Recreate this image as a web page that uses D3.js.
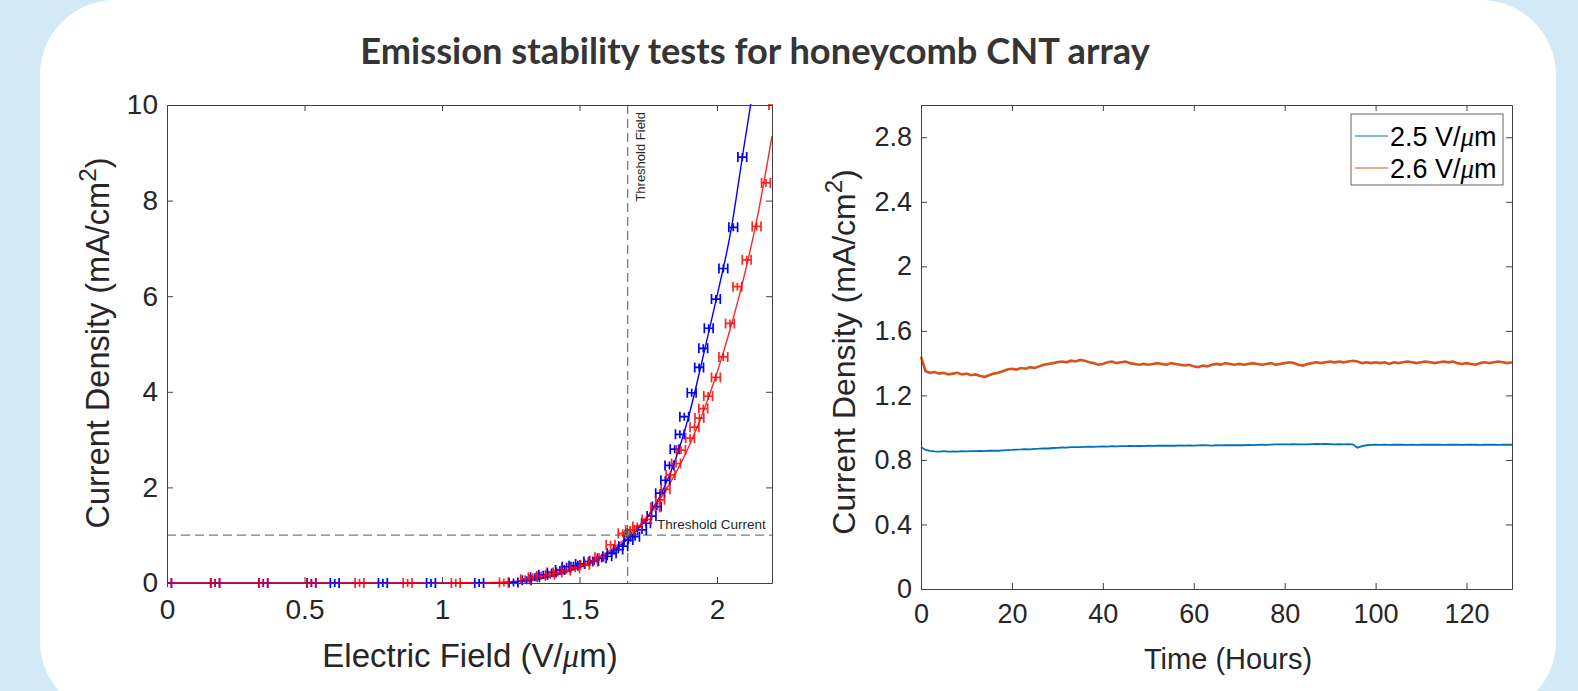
<!DOCTYPE html>
<html>
<head>
<meta charset="utf-8">
<script src="https://cdn.jsdelivr.net/npm/d3@7"></script>
<style>
	body { margin: 0; background: #d3e9f5; }
	svg { display: block; }
	.tick text { font-family: "Liberation Sans", Arial, sans-serif; fill: #262626; }
	.axis path, .axis line { stroke: #404040; }
</style>
</head>
<body>
<script>
	var w = 1578;
	var h = 691;

	// left panel: field emission J-E curves
	var blueField = [0, 0.175, 0.35, 0.525, 0.61, 0.785, 0.96, 1.135, 1.26, 1.308, 1.338, 1.368, 1.399, 1.429, 1.453, 1.478, 1.502, 1.532, 1.553, 1.581, 1.601, 1.617, 1.641, 1.659, 1.678, 1.702, 1.727, 1.742, 1.762, 1.781, 1.793, 1.812, 1.827, 1.846, 1.865, 1.881, 1.908, 1.935, 1.95, 1.97, 1.996, 2.023, 2.059, 2.092];
	var blueCurrent = [0, 0, 0, 0, 0, 0, 0, 0, 0.01, 0.06, 0.12, 0.17, 0.22, 0.27, 0.34, 0.36, 0.4, 0.45, 0.46, 0.52, 0.56, 0.62, 0.7, 0.77, 0.9, 0.97, 1.11, 1.25, 1.4, 1.6, 1.88, 2.15, 2.46, 2.8, 3.11, 3.48, 3.98, 4.51, 4.91, 5.33, 5.94, 6.58, 7.44, 8.91];
	var redField = [0, 0.175, 0.35, 0.525, 0.7, 0.875, 1.05, 1.225, 1.302, 1.33, 1.36, 1.393, 1.42, 1.45, 1.484, 1.52, 1.55, 1.572, 1.613, 1.657, 1.684, 1.71, 1.744, 1.775, 1.793, 1.813, 1.831, 1.851, 1.869, 1.902, 1.918, 1.936, 1.95, 1.968, 1.996, 2.023, 2.047, 2.074, 2.108, 2.144, 2.178, 2.205];
	var redCurrent = [0, 0, 0, 0, 0, 0, 0, 0.01, 0.08, 0.12, 0.15, 0.17, 0.22, 0.26, 0.31, 0.38, 0.45, 0.54, 0.8, 1.04, 1.11, 1.18, 1.33, 1.58, 1.74, 1.96, 2.26, 2.5, 2.78, 3.03, 3.26, 3.45, 3.65, 3.91, 4.3, 4.73, 5.43, 6.2, 6.76, 7.46, 8.37, 10.0];
	var fieldErr = 0.016;

	// fitted curves
	var blueFitField = [0, 1.0, 1.2, 1.3, 1.4, 1.5, 1.55, 1.6, 1.65, 1.7, 1.75, 1.8, 1.85, 1.9, 1.95, 2.0, 2.05, 2.1, 2.15];
	var blueFitCurrent = [0, 0, 0.005, 0.04, 0.14, 0.32, 0.44, 0.6, 0.8, 1.05, 1.4, 1.9, 2.6, 3.55, 4.75, 6.0, 7.35, 9.2, 11.0];
	var redFitField = [0, 1.0, 1.2, 1.3, 1.4, 1.5, 1.55, 1.6, 1.65, 1.7, 1.75, 1.8, 1.85, 1.9, 1.95, 2.0, 2.05, 2.1, 2.15, 2.2];
	var redFitCurrent = [0, 0, 0.01, 0.06, 0.16, 0.34, 0.47, 0.64, 0.85, 1.1, 1.42, 1.82, 2.3, 2.88, 3.58, 4.4, 5.35, 6.45, 7.75, 9.35];

	var thresholdField = 1.675;
	var thresholdCurrent = 1.0;
	var fieldTicks = [0, 0.5, 1, 1.5, 2];
	var currentTicks = [0, 2, 4, 6, 8, 10];

	// right panel: stability over time
	var hours = d3.range(0, 131);
	var density25 = [
		0.88, 0.862, 0.856, 0.853, 0.852, 0.854, 0.851, 0.853, 0.852, 0.854,
		0.853, 0.855, 0.854, 0.856, 0.855, 0.857, 0.858, 0.857, 0.859, 0.861,
		0.862, 0.864, 0.865, 0.867, 0.866, 0.869, 0.87, 0.872, 0.871, 0.874,
		0.875, 0.877, 0.876, 0.879, 0.88, 0.879, 0.881, 0.882, 0.881, 0.883,
		0.884, 0.883, 0.885, 0.884, 0.886, 0.885, 0.887, 0.886, 0.887, 0.886,
		0.888, 0.887, 0.888, 0.889, 0.888, 0.889, 0.888, 0.89, 0.889, 0.89,
		0.889, 0.89, 0.891, 0.89, 0.889, 0.891, 0.89, 0.891, 0.892, 0.891,
		0.892, 0.891, 0.893, 0.892, 0.893, 0.894, 0.893, 0.895, 0.896, 0.897,
		0.896, 0.897, 0.898, 0.897, 0.896, 0.897, 0.898, 0.899, 0.898, 0.899,
		0.898, 0.897, 0.898, 0.897, 0.898, 0.897, 0.876, 0.886, 0.891, 0.893,
		0.894, 0.893, 0.894, 0.893, 0.894, 0.895, 0.894, 0.893, 0.894, 0.893,
		0.894, 0.895, 0.894, 0.895, 0.894, 0.893, 0.894, 0.895, 0.894, 0.893,
		0.894, 0.895, 0.894, 0.893, 0.894, 0.895, 0.894, 0.893, 0.894, 0.895,
		0.894];
	var density26 = [
		1.44, 1.35, 1.34, 1.345, 1.335, 1.34, 1.33, 1.335, 1.34, 1.33,
		1.335, 1.325, 1.33, 1.32, 1.315, 1.325, 1.335, 1.34, 1.35, 1.36,
		1.365, 1.36, 1.37, 1.365, 1.375, 1.37, 1.38, 1.39, 1.395, 1.4,
		1.405, 1.41, 1.405, 1.415, 1.41, 1.42, 1.415, 1.405, 1.4, 1.39,
		1.395, 1.405, 1.41, 1.4, 1.405, 1.41, 1.4, 1.395, 1.39, 1.395,
		1.39, 1.395, 1.4, 1.395, 1.39, 1.4, 1.395, 1.39, 1.385, 1.39,
		1.38, 1.375, 1.385, 1.38, 1.39, 1.395, 1.39, 1.4, 1.395, 1.39,
		1.395, 1.39, 1.395, 1.4, 1.395, 1.39, 1.395, 1.4, 1.39, 1.395,
		1.4, 1.405, 1.4, 1.39, 1.385, 1.395, 1.4, 1.405, 1.4, 1.405,
		1.41, 1.405, 1.41, 1.405, 1.41, 1.415, 1.41, 1.4, 1.405, 1.4,
		1.405, 1.4, 1.405, 1.395, 1.405, 1.4, 1.405, 1.41, 1.405, 1.4,
		1.405, 1.41, 1.405, 1.4, 1.405, 1.41, 1.405, 1.41, 1.4, 1.395,
		1.4, 1.395, 1.39, 1.4, 1.405, 1.4, 1.405, 1.41, 1.405, 1.4,
		1.405];
	var timeTicks = [0, 20, 40, 60, 80, 100, 120];
	var densityTicks = [0, 0.4, 0.8, 1.2, 1.6, 2, 2.4, 2.8];
	var legendLabels = ["2.5", "2.6"];

	var left = { x0: 167, x1: 772, y0: 105, y1: 583, font: 28, pad: 16 };
	var right = { x0: 921, x1: 1512, y0: 105, y1: 589, font: 27, pad: 15 };

	var svg = d3.select("body")
		.append("svg")
		.attr("width", w)
		.attr("height", h);

	// white card
	svg.append("rect")
		.attr("x", 40).attr("y", 0)
		.attr("width", 1516).attr("height", 716)
		.attr("rx", 75).attr("ry", 75)
		.attr("fill", "#ffffff");

	var title = svg.append("text")
		.attr("x", 755)
		.attr("y", 64)
		.attr("text-anchor", "middle")
		.attr("font-family", "Lato, 'Open Sans', sans-serif")
		.attr("font-weight", 700)
		.attr("font-size", 28)
		.attr("fill", "#353535")
		.text("Emission stability tests for honeycomb CNT array");
	var tw = title.node().getComputedTextLength();
	title.attr("font-size", 28 * 790 / tw);

	function drawAxes(box, xScale, yScale, xTicks, yTicks) {
		var g = svg.append("g");
		g.append("g").attr("class", "axis")
			.attr("transform", "translate(0," + box.y1 + ")")
			.call(d3.axisBottom(xScale).tickValues(xTicks).tickFormat(d3.format("")).tickSizeInner(-6).tickSizeOuter(0).tickPadding(box.pad))
			.selectAll("text").attr("font-size", box.font);
		g.append("g").attr("class", "axis")
			.attr("transform", "translate(0," + box.y0 + ")")
			.call(d3.axisTop(xScale).tickValues(xTicks).tickFormat("").tickSizeInner(-6).tickSizeOuter(0));
		g.append("g").attr("class", "axis")
			.attr("transform", "translate(" + box.x0 + ",0)")
			.call(d3.axisLeft(yScale).tickValues(yTicks).tickFormat(d3.format("")).tickSizeInner(-6).tickSizeOuter(0).tickPadding(9))
			.selectAll("text").attr("font-size", box.font);
		g.append("g").attr("class", "axis")
			.attr("transform", "translate(" + box.x1 + ",0)")
			.call(d3.axisRight(yScale).tickValues(yTicks).tickFormat("").tickSizeInner(-6).tickSizeOuter(0));
		g.selectAll(".domain").attr("stroke-width", 1);
		return g;
	}

	function axisLabel(x, y, rotate, size, parts) {
		var t = svg.append("text")
			.attr("transform", "translate(" + x + "," + y + ")" + (rotate ? " rotate(-90)" : ""))
			.attr("text-anchor", "middle")
			.attr("font-family", "'Liberation Sans', Arial, sans-serif")
			.attr("font-size", size)
			.attr("fill", "#262626");
		parts.forEach(function (p) {
			var s = t.append("tspan").text(p.t);
			if (p.mu) s.attr("font-family", "'Liberation Serif', serif").attr("font-style", "italic");
			if (p.sup) s.attr("font-size", size * 0.75).attr("baseline-shift", "super");
		});
		return t;
	}

	// ---------- left chart ----------
	var xField = d3.scaleLinear().domain([0, 2.2]).range([left.x0, left.x1]);
	var yCurrent = d3.scaleLinear().domain([0, 10]).range([left.y1, left.y0]);

	svg.append("clipPath").attr("id", "clipL")
		.append("rect")
		.attr("x", left.x0).attr("y", left.y0 - 1)
		.attr("width", left.x1 - left.x0 + 1).attr("height", left.y1 - left.y0 + 6);

	var plotL = svg.append("g").attr("clip-path", "url(#clipL)");

	plotL.append("line")
		.attr("x1", left.x0).attr("x2", left.x1)
		.attr("y1", yCurrent(thresholdCurrent)).attr("y2", yCurrent(thresholdCurrent))
		.attr("stroke", "#7a7a7a").attr("stroke-width", 1.3).attr("stroke-dasharray", "9,5");
	plotL.append("line")
		.attr("x1", xField(thresholdField)).attr("x2", xField(thresholdField))
		.attr("y1", left.y0).attr("y2", left.y1)
		.attr("stroke", "#7a7a7a").attr("stroke-width", 1.3).attr("stroke-dasharray", "9,5");

	var fitLine = d3.line()
		.x(function (d) { return xField(d[0]); })
		.y(function (d) { return yCurrent(d[1]); })
		.curve(d3.curveMonotoneX);

	plotL.append("path")
		.datum(d3.zip(blueFitField, blueFitCurrent))
		.attr("d", fitLine)
		.attr("fill", "none").attr("stroke", "#0000ff").attr("stroke-width", 1.4);
	plotL.append("path")
		.datum(d3.zip(redFitField, redFitCurrent))
		.attr("d", fitLine)
		.attr("fill", "none").attr("stroke", "#ff0000").attr("stroke-width", 1.4).attr("opacity", 0.85);

	function markers(fields, currents, color, opacity) {
		plotL.selectAll(null)
			.data(d3.zip(fields, currents))
			.enter()
			.append("path")
			.attr("d", function (d) {
				var a = xField(d[0] - fieldErr), b = xField(d[0] + fieldErr), c = xField(d[0]), y = yCurrent(d[1]);
				return "M" + a + "," + y + "H" + b +
					"M" + a + "," + (y - 5) + "V" + (y + 5) +
					"M" + b + "," + (y - 5) + "V" + (y + 5) +
					"M" + c + "," + (y - 4) + "V" + (y + 4);
			})
			.attr("fill", "none")
			.attr("stroke", color)
			.attr("stroke-width", 1.7)
			.attr("opacity", opacity);
	}
	markers(blueField, blueCurrent, "#0000ff", 1);
	markers(redField, redCurrent, "#ff0000", 0.85);

	plotL.append("circle")
		.attr("cx", xField(thresholdField)).attr("cy", yCurrent(thresholdCurrent + 0.04))
		.attr("r", 4)
		.attr("fill", "#555").attr("fill-opacity", 0.6)
		.attr("stroke", "#444").attr("stroke-width", 0.8);

	svg.append("text")
		.attr("transform", "translate(" + (xField(thresholdField) + 17) + "," + (left.y0 + 7) + ") rotate(-90)")
		.attr("text-anchor", "end")
		.attr("font-family", "'Liberation Sans', Arial, sans-serif")
		.attr("font-size", 13)
		.attr("fill", "#262626")
		.text("Threshold Field");
	svg.append("text")
		.attr("x", 657).attr("y", yCurrent(thresholdCurrent) - 6)
		.attr("font-family", "'Liberation Sans', Arial, sans-serif")
		.attr("font-size", 13.5)
		.attr("fill", "#262626")
		.text("Threshold Current");

	drawAxes(left, xField, yCurrent, fieldTicks, currentTicks);

	axisLabel(470, 667, false, 33, [{ t: "Electric Field (V/" }, { t: "\u03bc", mu: true }, { t: "m)" }]);
	axisLabel(109, 343, true, 32.5, [{ t: "Current Density (mA/cm" }, { t: "2", sup: true }, { t: ")" }]);

	// ---------- right chart ----------
	var xTime = d3.scaleLinear().domain([0, 130]).range([right.x0, right.x1]);
	var yDensity = d3.scaleLinear().domain([0, 3]).range([right.y1, right.y0]);

	var timeLine = d3.line()
		.x(function (d) { return xTime(d[0]); })
		.y(function (d) { return yDensity(d[1]); });

	svg.append("path")
		.datum(d3.zip(hours, density25))
		.attr("d", timeLine)
		.attr("fill", "none").attr("stroke", "#0072bd").attr("stroke-width", 1.8);
	svg.append("path")
		.datum(d3.zip(hours, density26))
		.attr("d", timeLine)
		.attr("fill", "none").attr("stroke", "#d95319").attr("stroke-width", 2.6);

	drawAxes(right, xTime, yDensity, timeTicks, densityTicks);

	axisLabel(1228, 669, false, 29, [{ t: "Time (Hours)" }]);
	axisLabel(855, 352, true, 32, [{ t: "Current Density (mA/cm" }, { t: "2", sup: true }, { t: ")" }]);

	// legend
	var legend = svg.append("g");
	legend.append("rect")
		.attr("x", 1351).attr("y", 114)
		.attr("width", 152).attr("height", 71)
		.attr("fill", "#ffffff").attr("stroke", "#666").attr("stroke-width", 1);
	var legendColors = ["#0072bd", "#d95319"];
	legendLabels.forEach(function (l, i) {
		var cy = 136 + i * 32;
		legend.append("line")
			.attr("x1", 1355).attr("x2", 1388)
			.attr("y1", cy).attr("y2", cy)
			.attr("stroke", legendColors[i]).attr("stroke-width", 1);
		var t = legend.append("text")
			.attr("x", 1390).attr("y", cy + 10)
			.attr("font-family", "'Liberation Sans', Arial, sans-serif")
			.attr("font-size", 27)
			.attr("fill", "#000");
		t.append("tspan").text(l + " V/");
		t.append("tspan").attr("font-family", "'Liberation Serif', serif").attr("font-style", "italic").text("\u03bc");
		t.append("tspan").text("m");
	});
</script>
</body>
</html>
